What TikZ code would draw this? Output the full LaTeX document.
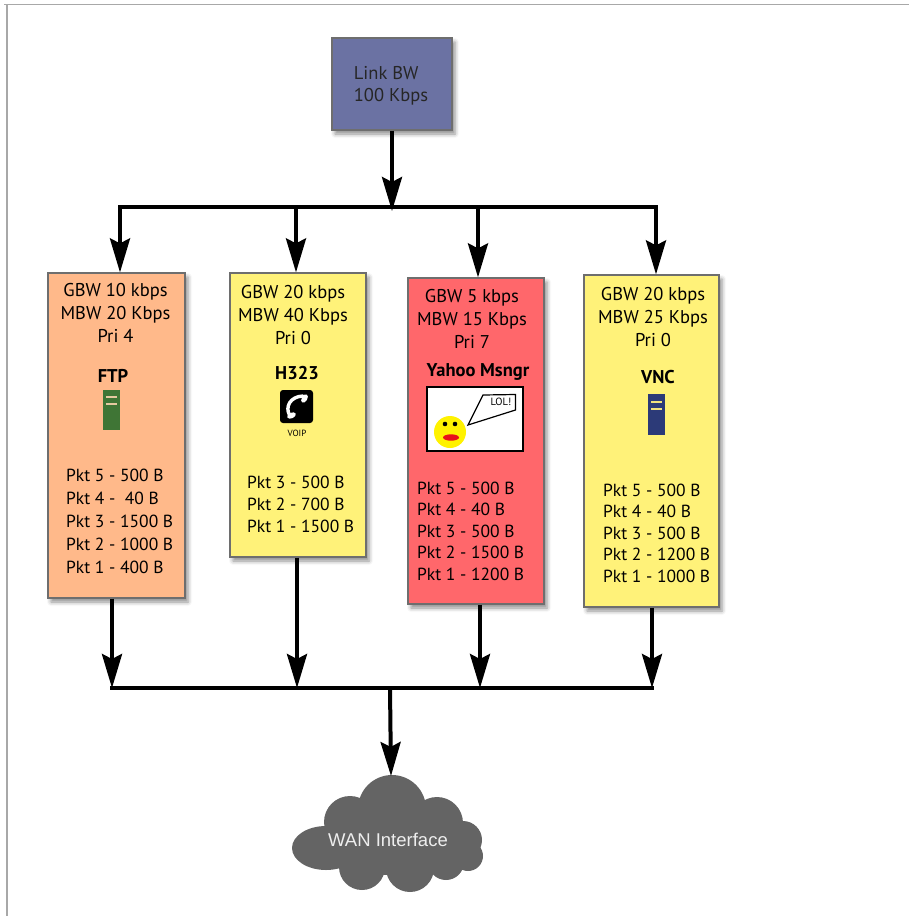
\documentclass[tikz,border=0pt]{standalone}
\usepackage{fontspec}
\setmainfont{PT Sans}
\newfontfamily\cloudfont{Liberation Sans}
\usetikzlibrary{arrows.meta,shadows.blur}

\definecolor{linkblue}{HTML}{6B72A3}
\definecolor{ftppeach}{HTML}{FFB98A}
\definecolor{qyellow}{HTML}{FFF279}
\definecolor{msgred}{HTML}{FF676B}
\definecolor{boxedge}{HTML}{6E6E6E}
\definecolor{cloudgray}{HTML}{646464}
\definecolor{cloudtext}{HTML}{EEEEEE}
\definecolor{framegray}{HTML}{A8A8A8}
\definecolor{srvgreen}{HTML}{3F7535}
\definecolor{srvgreenline}{HTML}{E6C9A0}
\definecolor{srvnavy}{HTML}{2C3A78}
\definecolor{srvnavyline}{HTML}{F2E27E}
\definecolor{smiley}{HTML}{FFF200}
\definecolor{mouth}{HTML}{E8101A}

\tikzset{
  queue/.style={draw=boxedge, line width=1.2pt, inner sep=0pt,
    blur shadow={shadow xshift=3pt, shadow yshift=-4pt, shadow blur radius=4pt, shadow opacity=45}},
  header/.style={font=\fontsize{18.5}{23}\selectfont, align=center, inner sep=0pt},
  pkts/.style={font=\fontsize{17.5}{22}\selectfont, align=left, inner sep=0pt, anchor=west},
  title/.style={font=\fontsize{18.5}{20}\selectfont\bfseries, inner sep=0pt},
  flow/.style={line width=4pt, -{Stealth[length=34pt,width=20pt,inset=5pt]}},
  bus/.style={line width=4pt},
  server/.style={inner sep=0pt, minimum width=17pt, minimum height=40pt},
}

\begin{document}
\begin{tikzpicture}[x=1pt,y=-1pt]
\useasboundingbox (0,0) rectangle (909,916);

% page frame (top and left edges only)
\draw[framegray, line width=1pt] (4,4.5) -- (909,4.5);
\draw[framegray, line width=2pt] (7,4) -- (7,916);

% link bandwidth
\node[queue, fill=linkblue, minimum width=120pt, minimum height=92pt] (link) at (392,84) {};
\node[font=\fontsize{18.5}{22}\selectfont, align=left, inner sep=0pt, text=black!85] (linktxt) at (391,86) {Link BW\\ 100 Kbps};

% traffic classes
\node[queue, fill=ftppeach, minimum width=137pt, minimum height=325pt] (ftp) at (116.5,435.5) {};
\node[queue, fill=qyellow, minimum width=136pt, minimum height=284pt] (h323) at (298,415) {};
\node[queue, fill=msgred, minimum width=136pt, minimum height=326pt] (yahoo) at (476,441) {};
\node[queue, fill=qyellow, minimum width=135pt, minimum height=332pt] (vnc) at (651.5,441) {};

% class parameters
\node[header] (ftphdr) at (115.5,313) {GBW 10 kbps\\MBW 20 Kbps\\Pri 4};
\node[header] (h323hdr) at (293,315.5) {GBW 20 kbps\\MBW 40 Kbps\\Pri 0};
\node[header] (yahoohdr) at (472,318.5) {GBW 5 kbps\\MBW 15 Kbps\\Pri 7};
\node[header] (vnchdr) at (653,317) {GBW 20 kbps\\MBW 25 Kbps\\Pri 0};

% application names
\node[title] (ftpname) at (113,376) {FTP};
\node[title] (h323name) at (297,373) {H323};
\node[title] (yahooname) at (478,372) {Yahoo Msngr};
\node[title] (vncname) at (658,377) {VNC};

% FTP server icon
\node[server, fill=srvgreen] (ftpicon) at (111.5,410) {};
\draw[srvgreenline, line width=1.3pt] (106,397) -- (117,397);
\draw[srvgreenline, line width=2pt] (106,404) -- (117,404);

% VNC server icon
\node[server, fill=srvnavy, minimum height=41pt] (vncicon) at (656.5,414.5) {};
\draw[srvnavyline, line width=1.3pt] (651,402) -- (662,402);
\draw[srvnavyline, line width=2pt] (651,409) -- (662,409);

% VoIP phone icon: white handset on a black tile
\node[fill=black, rounded corners=3pt, minimum width=33pt, minimum height=33pt, inner sep=0pt] (phone) at (296.5,406.5) {};
\draw[white, line width=3.4pt, line cap=round] (289.5,415) .. controls (285,407) and (290,396.5) .. (303,396);
\fill[white, rotate around={60:(304.5,398.5)}] (304.5,398.5) ellipse (4.6 and 2.8);
\fill[white, rotate around={25:(291.5,415.5)}] (291.5,415.5) ellipse (4.6 and 2.8);
\node[font=\fontsize{9}{10}\selectfont, inner sep=0pt] (voip) at (297,433) {VOIP};

% messenger picture
\node[draw=black, fill=white, line width=1.6pt, minimum width=96pt, minimum height=64pt, inner sep=0pt] (chat) at (475,419) {};
\fill[smiley] (450,432) circle (16);
\fill[black] (445,424) circle (2.3);
\fill[black] (455,424) circle (2.3);
\fill[mouth] (451,437.5) ellipse (8 and 3.2);
\draw[black, fill=white, line width=1.2pt, line join=miter] (483,395) -- (515.5,394.5) -- (515.5,410) -- (468,425) -- cycle;
\node[font=\fontsize{10.5}{11}\selectfont, inner sep=0pt] (lol) at (501,402) {LOL!};

% queued packets
\node[pkts, font=\fontsize{17.5}{23}\selectfont] (ftppkt) at (66,521) {Pkt 5 - 500 B\\Pkt 4 -~ 40 B\\Pkt 3 - 1500 B\\Pkt 2 - 1000 B\\Pkt 1 - 400 B};
\node[pkts] (h323pkt) at (247,504.5) {Pkt 3 - 500 B\\Pkt 2 - 700 B\\Pkt 1 - 1500 B};
\node[pkts, font=\fontsize{17.5}{21.5}\selectfont] (yahoopkt) at (417,531) {Pkt 5 - 500 B\\Pkt 4 - 40 B\\Pkt 3 - 500 B\\Pkt 2 - 1500 B\\Pkt 1 - 1200 B};
\node[pkts, font=\fontsize{17.5}{21.5}\selectfont] (vncpkt) at (603,533) {Pkt 5 - 500 B\\Pkt 4 - 40 B\\Pkt 3 - 500 B\\Pkt 2 - 1200 B\\Pkt 1 - 1000 B};

% WAN cloud
\begin{scope}[cloudgray]
  \fill (392,809) circle (34);
  \fill (350,822) circle (26);
  \fill (437,823) circle (26);
  \fill (463,840) circle (19);
  \fill (468,856) circle (15);
  \fill (326,848) ellipse (34 and 22);
  \fill (362,867) circle (23);
  \fill (410,868) circle (24);
  \fill (446,862) circle (18);
  \fill (390,845) ellipse (72 and 30);
\end{scope}
\node[font=\cloudfont\fontsize{18.5}{20}\selectfont, text=cloudtext, inner sep=0pt] (wan) at (388,840) {WAN Interface};
\coordinate (cloudtop) at (391,776);

% distribution bus
\coordinate (tb) at (392,207);
\coordinate (tl) at (118,207);
\coordinate (tr) at (658,207);
\coordinate (d1) at (120,207);
\coordinate (d2) at (296,207);
\coordinate (d3) at (478,207);
\coordinate (d4) at (656,207);
\draw[flow] (link.south) -- ([yshift=-4pt]tb);
\draw[bus] (tl) -- (tr);
\draw[flow] (d1) -- (d1 |- ftp.north);
\draw[flow] (d2) -- (d2 |- h323.north);
\draw[flow] (d3) -- (d3 |- yahoo.north);
\draw[flow] (d4) -- (d4 |- vnc.north);

% collection bus
\coordinate (u1) at (112,688);
\coordinate (u2) at (297,688);
\coordinate (u3) at (480,688);
\coordinate (u4) at (652,688);
\coordinate (bl) at (110,688);
\coordinate (br) at (654,688);
\coordinate (bb) at (390,688);
\draw[flow] (u1 |- ftp.south) -- (u1);
\draw[flow] (u2 |- h323.south) -- (u2);
\draw[flow] (u3 |- yahoo.south) -- (u3);
\draw[flow] (u4 |- vnc.south) -- (u4);
\draw[bus] (bl) -- (br);
\draw[flow] (bb) -- (cloudtop);
\end{tikzpicture}
\end{document}
